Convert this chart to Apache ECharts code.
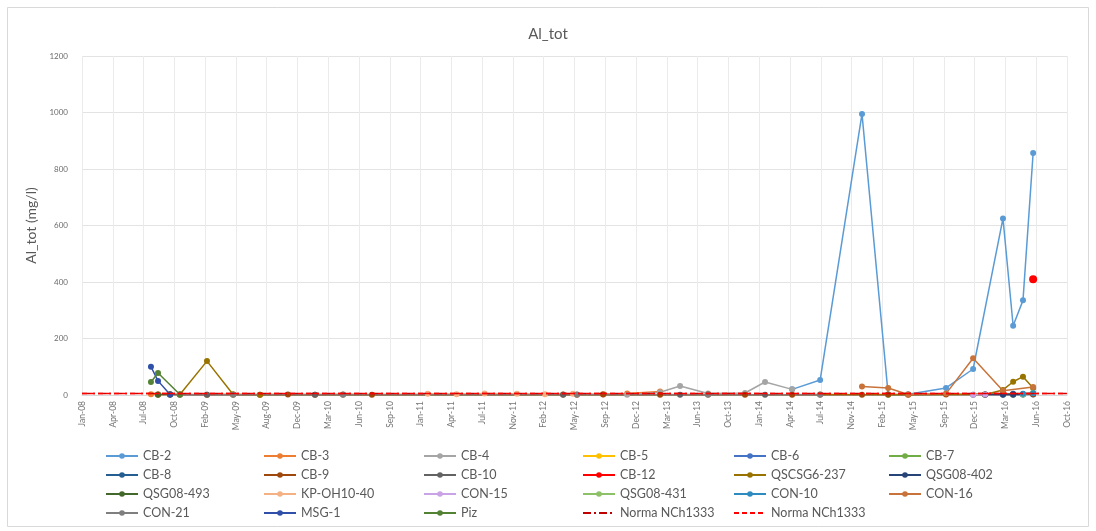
<!DOCTYPE html>
<html><head><meta charset="utf-8">
<script src="https://cdn.jsdelivr.net/npm/echarts@6/dist/echarts.min.js"></script>
<style>html,body{margin:0;padding:0;background:#fff}#c{width:1096px;height:531px}</style>
</head><body><div id="c"></div>
<script>
const chartTitle = 'Al_tot';
const yAxisName = 'Al_tot (mg/l)';
const xTickLabels = ['Jan-08','Apr-08','Jul-08','Oct-08','Feb-09','May-09','Aug-09','Dec-09','Mar-10','Jun-10','Sep-10','Jan-11','Apr-11','Jul-11','Nov-11','Feb-12','May-12','Sep-12','Dec-12','Mar-13','Jun-13','Oct-13','Jan-14','Apr-14','Jul-14','Nov-14','Feb-15','May-15','Sep-15','Dec-15','Mar-16','Jun-16','Oct-16'];
const axisStartDate = '2008-01-01';
const yMin = 0, yMax = 1200, yStep = 200;

// Series data: [date, value]
const CB2 = [['2014-04-26',20],['2014-07-26',53],['2014-12-09',995],['2015-03-04',2],['2015-05-08',3],['2015-09-08',25],['2015-12-05',92],['2016-03-11',625],['2016-04-13',245],['2016-05-15',335],['2016-06-17',857]];
const CB3 = [['2008-08-12',3],['2008-09-04',2],['2012-08-20',3],['2012-11-06',5],['2013-02-21',12]];
const CB4 = [['2012-11-06',1],['2013-02-21',10],['2013-04-27',32],['2013-07-27',5],['2013-11-24',7],['2014-01-28',46],['2014-04-26',20]];
const CB5 = [['2016-03-11',3],['2016-04-13',2]];
const CB6 = [['2016-04-13',4],['2016-05-15',3]];
const CB7 = [['2015-03-04',1],['2016-06-17',5]];
const CB8 = [['2016-03-11',2],['2016-04-13',1],['2016-06-17',2]];
const CB9 = [['2008-09-04',2],['2008-10-13',3],['2008-11-14',2],['2009-02-10',1],['2009-05-06',2],['2009-08-01',1],['2009-10-31',2],['2010-01-27',1],['2010-04-28',2],['2010-07-31',1],['2012-04-12',2],['2012-05-27',1],['2012-08-20',2],['2013-02-21',1],['2013-07-27',2],['2013-11-24',1],['2014-04-26',1],['2014-07-26',2],['2014-12-09',1],['2015-03-04',2],['2015-05-08',1],['2015-09-08',2],['2016-01-13',2],['2016-06-17',3]];
const CB10 = [['2008-10-13',1],['2009-02-10',1],['2010-01-27',1],['2012-04-12',1],['2013-04-27',1],['2014-01-28',1],['2015-12-05',1],['2016-01-13',1],['2016-04-13',2]];
const CB12 = [['2016-06-17',410]];
const QSCSG6_237 = [['2008-11-14',2],['2009-02-10',120],['2009-05-06',2],['2009-08-01',1],['2016-01-13',2],['2016-03-11',18],['2016-04-13',47],['2016-05-15',65],['2016-06-17',25]];
const QSG08_402 = [['2016-01-13',2],['2016-03-11',1],['2016-04-13',3],['2016-05-15',2]];
const QSG08_493 = [['2008-09-04',1],['2008-10-13',2]];
const KP_OH10_40 = [['2011-01-28',4],['2011-05-02',3],['2011-08-01',5],['2011-11-14',4],['2012-02-13',3],['2012-05-14',4]];
const CON15 = [['2015-12-05',1],['2016-01-13',2]];
const QSG08_431 = [['2016-05-15',2],['2016-06-17',8]];
const CON10 = [['2016-05-15',4],['2016-06-17',6]];
const CON16 = [['2014-12-09',30],['2015-03-04',25],['2015-05-08',2],['2015-09-08',5],['2015-12-05',130],['2016-03-11',15],['2016-06-17',28]];
const CON21 = [['2008-11-14',1],['2009-05-06',1],['2010-04-28',1],['2012-05-27',2],['2013-07-27',1],['2014-07-26',1]];
const MSG1 = [['2008-08-12',100],['2008-09-04',50],['2008-10-13',2]];
const PIZ = [['2008-08-12',46],['2008-09-04',78],['2008-11-14',2]];
const NORMA_A = [['2008-01-01',5],['2016-10-05',5]];
const NORMA_B = [['2008-01-01',5],['2016-10-05',5]];

const seriesNames = ['CB-2','CB-3','CB-4','CB-5','CB-6','CB-7','CB-8','CB-9','CB-10','CB-12','QSCSG6-237','QSG08-402','QSG08-493','KP-OH10-40','CON-15','QSG08-431','CON-10','CON-16','CON-21','MSG-1','Piz','Norma NCh1333','Norma NCh1333 '];
const seriesData = [CB2,CB3,CB4,CB5,CB6,CB7,CB8,CB9,CB10,CB12,QSCSG6_237,QSG08_402,QSG08_493,KP_OH10_40,CON15,QSG08_431,CON10,CON16,CON21,MSG1,PIZ,NORMA_A,NORMA_B];
const seriesColors = ['#5B9BD5','#ED7D31','#A5A5A5','#FFC000','#4472C4','#70AD47','#255E91','#9E480E','#636363','#FF0000','#997300','#264478','#43682B','#F4B183','#C9A3E6','#8CC168','#2E8BC0','#C8733A','#7F7F7F','#2F4FA8','#548235','#C00000','#FF0000'];

function toDay(s){const p=s.split('-').map(Number);const b=axisStartDate.split('-').map(Number);return (Date.UTC(p[0],p[1]-1,p[2])-Date.UTC(b[0],b[1]-1,b[2]))/864e5;}

const font = 'Lato, "Open Sans", sans-serif';
const series = seriesNames.map((n,i)=>{
  const isNorma = i>=21;
  const s = {
    name:n, type:'line', data: seriesData[i].map(d=>[toDay(d[0]), d[1]]),
    color: seriesColors[i], symbol: isNorma?'none':'circle', symbolSize: n==='CB-12'?8:6,
    lineStyle:{width: n==='CB-12'?2.5:1.5, color: seriesColors[i]},
    itemStyle:{color: seriesColors[i]},
    animation:false, z: isNorma?3:2
  };
  if(i===21){s.lineStyle.type=[8,3,2,3];}
  if(i===22){s.lineStyle.type=[5,3];}
  return s;
});

const colLefts = [105,263,423,582,733,888];
const legends = colLefts.map((l,c)=>({
  orient:'vertical', left:l, top:449, padding:0, itemWidth:32, itemHeight:7, itemGap:5,
  data: [0,1,2,3].map(r=>seriesNames[r*6+c]).filter(x=>x!==undefined).map(n=>{
    const i = seriesNames.indexOf(n);
    return i>=21 ? {name:n, itemStyle:{opacity:0}} : {name:n};
  }),
  textStyle:{fontSize:12.5, color:'#595959', fontFamily:font, lineHeight:14},
  selectedMode:false
}));

const chart = echarts.init(document.getElementById('c'), null, {renderer:'canvas'});
chart.setOption({
  backgroundColor:'#fff',
  animation:false,
  title:{text:chartTitle, left:'center', top:22, textStyle:{fontSize:15, fontWeight:'normal', color:'#595959', fontFamily:font}},
  graphic:[{type:'rect', shape:{x:7.5,y:7.5,width:1081,height:519}, style:{fill:'none', stroke:'#D9D9D9', lineWidth:1}, silent:true}],
  grid:{left:82, right:29, top:56, bottom:136},
  legend: legends,
  xAxis:{type:'value', min:0, max:(xTickLabels.length-1)*100, interval:100,
    axisLine:{show:true, lineStyle:{color:'#D9D9D9'}}, axisTick:{show:false},
    splitLine:{show:true, lineStyle:{color:'#EBEBEB'}},
    axisLabel:{rotate:90, fontSize:8.5, color:'#757575', margin:6, fontFamily:font,
      formatter:v=>xTickLabels[Math.round(v/100)]||''}},
  yAxis:{type:'value', min:yMin, max:yMax, interval:yStep, name:yAxisName, nameLocation:'middle', nameGap:26,
    nameTextStyle:{fontSize:14, color:'#595959', fontFamily:font},
    axisLine:{show:false}, axisTick:{show:false},
    splitLine:{lineStyle:{color:'#E3E3E3'}},
    axisLabel:{fontSize:8, color:'#6b6b6b', margin:14, fontFamily:font, formatter:v=>String(v)}},
  series: series
});
</script></body></html>
